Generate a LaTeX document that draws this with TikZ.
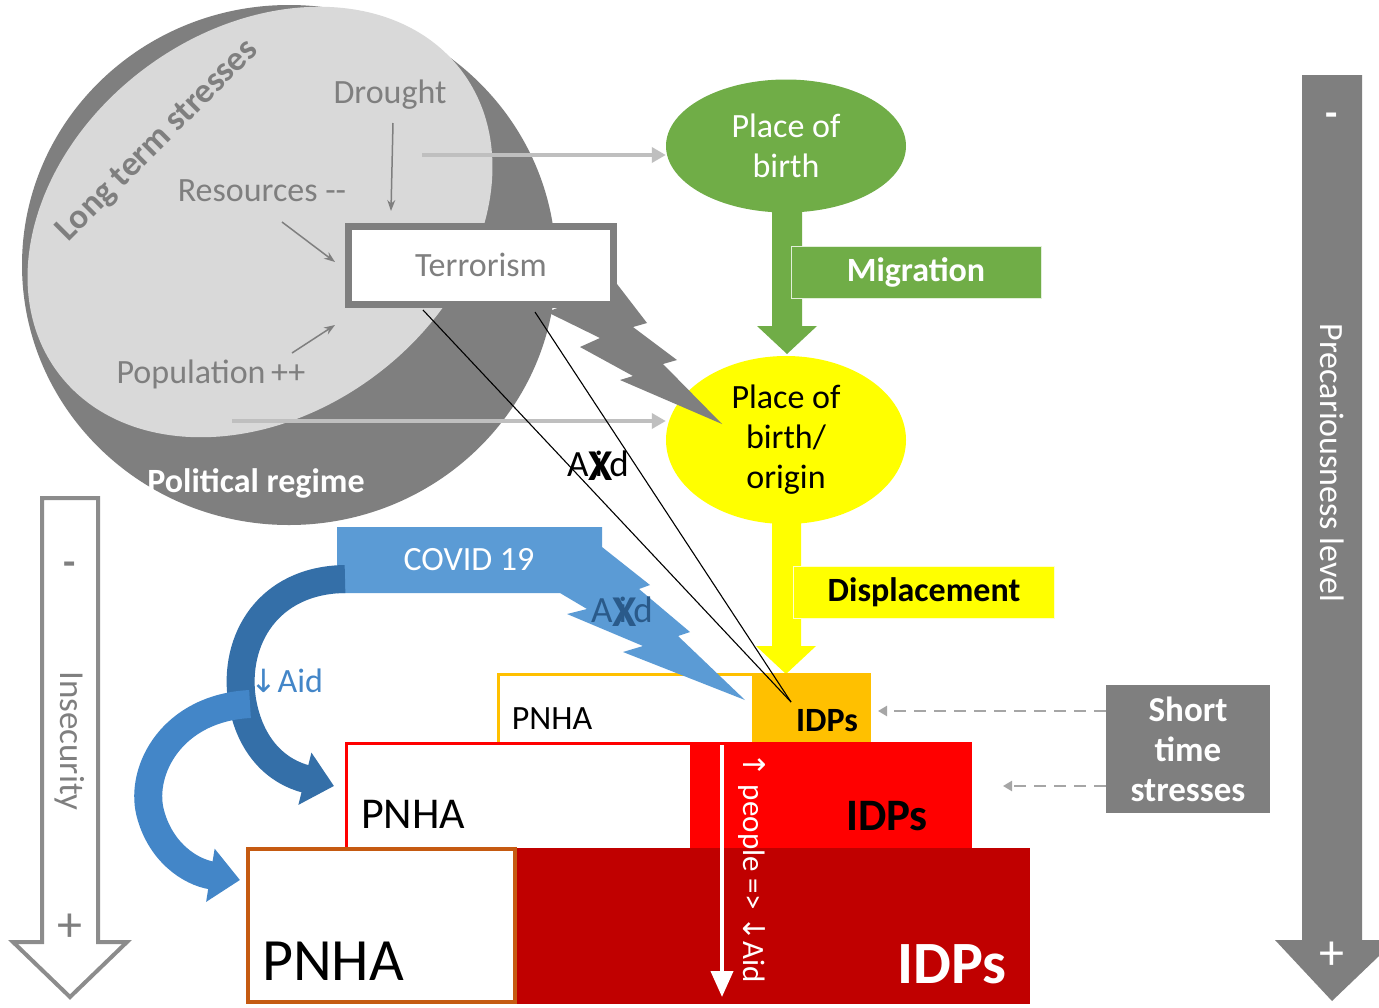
\documentclass[tikz,border=0pt]{standalone}
\usepackage{fontspec}
\setmainfont{Carlito}
\newfontfamily\symf{DejaVu Sans}
\usetikzlibrary{arrows.meta,shapes.geometric}
\definecolor{dgray}{HTML}{7F7F7F}
\definecolor{lgray}{HTML}{D9D9D9}
\definecolor{agray}{HTML}{BFBFBF}
\definecolor{dashgray}{HTML}{A6A6A6}
\definecolor{greenA}{HTML}{70AD47}
\definecolor{yelA}{HTML}{FFFF00}
\definecolor{orngA}{HTML}{FFC000}
\definecolor{redA}{HTML}{FF0000}
\definecolor{dredA}{HTML}{C00000}
\definecolor{brwnA}{HTML}{C55A11}
\definecolor{blueA}{HTML}{5B9BD5}
\definecolor{blueB}{HTML}{4386C8}
\definecolor{blueC}{HTML}{346FA8}
\definecolor{dblueA}{HTML}{2A5A8A}
\newcommand{\fs}[1]{\fontsize{#1}{#1}\selectfont}
\tikzset{
  txt/.style={inner sep=0pt, font=\fs{34}},
  smallarrow/.style={dgray, line width=1.5pt, -{Stealth[length=11pt,width=8pt]}},
  longarrow/.style={agray, line width=4pt, -{Triangle[length=14pt,width=15pt]}},
  dasharrow/.style={dashgray, line width=2.5pt, dash pattern=on 12pt off 8pt, -{Triangle[length=9pt,width=10pt]}},
  blackline/.style={black, line width=1.1pt},
  bandA/.style={line width=28pt, -{Triangle[length=30pt,width=52pt]}},
}
\begin{document}
\begin{tikzpicture}[x=1pt,y=-1pt]
\useasboundingbox (0,0) rectangle (1379,1007);
\fill[white] (0,0) rectangle (1379,1007);

% ---------- long term stresses ellipses
\fill[dgray] (289,265) ellipse [x radius=267, y radius=260];
\fill[lgray, rotate around={36.6:(260,222)}] (260,222) ellipse [x radius=252, y radius=192];
\node[txt, dgray, font=\fs{35}\bfseries, rotate=45] (lts) at (158,141) {Long term stresses};
\node[txt, white, font=\fs{34}\bfseries] (polreg) at (256,483) {Political regime};
\node[txt, dgray] (drought) at (390,95) {Drought};
\node[txt, dgray] (resources) at (262,191) {Resources -{}-};
\node[txt, dgray] (population) at (211,374) {Population\,++};

% ---------- light grey arrows
\coordinate (la1) at (422,155);
\coordinate (la2) at (232,421);

% ---------- green
\node[ellipse, fill=greenA, minimum width=240pt, minimum height=133pt, inner sep=0pt, align=center, text=white, font=\fs{34}] (pob) at (786,146) {Place of\\[6pt]birth};
\fill[greenA] (772,205) -- (802,205) -- (802,326) -- (817,326) -- (787,354) -- (757,326) -- (772,326) -- cycle;
\node[fill=greenA, draw=white!80!greenA, line width=1pt, minimum width=250pt, minimum height=52pt, text=white, font=\fs{34}\bfseries] (migr) at (916,272) {Migration};

% ---------- yellow
\node[ellipse, fill=yelA, minimum width=240pt, minimum height=168pt, inner sep=0pt, align=center, text=black, font=\fs{34}] (pobo) at (786,440) {Place of\\[6pt]birth/\\[6pt]origin};
\fill[yelA] (772,518) -- (801,518) -- (801,646) -- (816,646) -- (786,674) -- (756,646) -- (772,646) -- cycle;
\node[fill=yelA, draw=white!80!yelA, line width=1pt, minimum width=261pt, minimum height=52pt, text=black, font=\fs{34}\bfseries] (displ) at (924,592) {Displacement};

\draw[longarrow] (la1) -- (pob.west |- la1);
\draw[longarrow] (la2) -- (pobo.west |- la2);

% ---------- grey lightning bolt
\fill[dgray] (560,307) -- (617,284) -- (647,323) -- (633,327) -- (677,360) -- (663,364) -- (722,424) -- (620,380) -- (633,376) -- (580,347) -- (600,338) -- (547,312) -- cycle;

% ---------- terrorism box
\node[draw=dgray, line width=7pt, fill=white, minimum width=265pt, minimum height=78pt, text=dgray, font=\fs{34}] (terr) at (481,265) {Terrorism};
\draw[smallarrow] (393,123) -- (391,211);
\draw[smallarrow] (282,222) -- (335,262);
\draw[smallarrow] (292,353) -- (335,325);

% ---------- pyramid, top level
\fill[orngA] (497,673) rectangle (871,745);
\fill[white] (500,676) rectangle (752,745);
\node[txt, font=\fs{34}] (pnha1) at (552,719) {PNHA};
\node[txt, font=\fs{34}\bfseries] (idp1) at (827,721) {IDPs};
% middle level
\fill[redA] (345,742) rectangle (972,850);
\fill[white] (348,745) rectangle (690,850);
\node[txt, font=\fs{44}] (pnha2) at (413,814) {PNHA};
\node[txt, font=\fs{45}\bfseries] (idp2) at (887,816) {IDPs};
% bottom level
\fill[dredA] (515,848) rectangle (1030,1004);
\draw[brwnA, line width=3.5pt, fill=white] (248,849) rectangle (515,1002);
\node[txt, font=\fs{60}] (pnha3) at (333,961) {PNHA};
\node[txt, white, font=\fs{60}\bfseries] (idp3) at (952,964) {IDPs};
% white arrow and text
\coordinate (wa1) at (722,745);
\coordinate (wa2) at (722,997);
\draw[white, line width=4pt, -{Triangle[length=26pt,width=22pt]}] (wa1) -- (wa2);
\node[txt, white, rotate=-90, font=\fs{31}] (people) at (752,868) {{\symf\fs{30}↑} people => {\symf\fs{30}↓}Aid};

% ---------- COVID bolt
\fill[blueA] (337,527) -- (602,527) -- (602,547) -- (650,585) -- (639,589) -- (690,632) -- (678,636) -- (745,700) -- (623,652) -- (643,646) -- (567,614) -- (587,609) -- (560,593) -- (337,593) -- cycle;
\node[txt, white, font=\fs{34}] (covid) at (469,560) {COVID 19};

% ---------- blue curved arrows
\draw[blueC, bandA] (345,579) .. controls (268,580) and (233,640) .. (242,700) .. controls (250,748) and (278,772) .. (334,786);
\draw[blueB, bandA] (250,704) .. controls (172,708) and (140,770) .. (150,812) .. controls (160,852) and (190,872) .. (240,880);
\node[txt, blueB, font=\fs{34}] (aidlab) at (287,681) {{\symf\fs{32}↓}Aid};

% ---------- crossed Aid
\node[txt, font=\fs{37}] (aidx1) at (598,464) {A\,i\,d};
\node[txt, font=\fs{44}\bfseries] (x1) at (601,466) {X};
\node[txt, dblueA, font=\fs{37}] (aidx2) at (622,610) {A\,i\,d};
\node[txt, dblueA, font=\fs{44}\bfseries] (x2) at (625,612) {X};

% ---------- black lines
\coordinate (conv) at (791,702);
\draw[blackline] (423,310) -- (conv);
\draw[blackline] (535,312) -- (conv);

% ---------- short time stresses
\node[fill=dgray, minimum width=164pt, minimum height=128pt, align=center, text=white, font=\fs{35}\bfseries, inner sep=0pt] (sts) at (1188,749) {Short\\[5pt]time\\[5pt]stresses};
\draw[dasharrow] (sts.west |- 0,711) -- (878,711);
\draw[dasharrow] (sts.west |- 0,786) -- (1003,786);

% ---------- insecurity arrow
\draw[dgray!90!white, line width=4pt, fill=white, line join=miter] (42,498) -- (98,498) -- (98,942) -- (127,942) -- (70,997) -- (13,942) -- (42,942) -- cycle;
\node[txt, dgray, font=\fs{40}\bfseries] (minusL) at (70,569) {-};
\node[txt, dgray, rotate=-90, font=\fs{35}] (insec) at (70,741) {Insecurity};
\node[txt, dgray, font=\fs{50}] (plusL) at (70,928) {+};

% ---------- precariousness arrow
\fill[dgray] (1302,75) -- (1362,75) -- (1362,940) -- (1379,940) -- (1379,956) -- (1332,1001) -- (1275,940) -- (1302,940) -- cycle;
\node[txt, white, font=\fs{40}\bfseries] (minusR) at (1332,120) {-};
\node[txt, white, rotate=-90, font=\fs{34}] (prec) at (1332,463) {Precariousness level};
\node[txt, white, font=\fs{50}] (plusR) at (1332,956) {+};
\end{tikzpicture}
\end{document}
